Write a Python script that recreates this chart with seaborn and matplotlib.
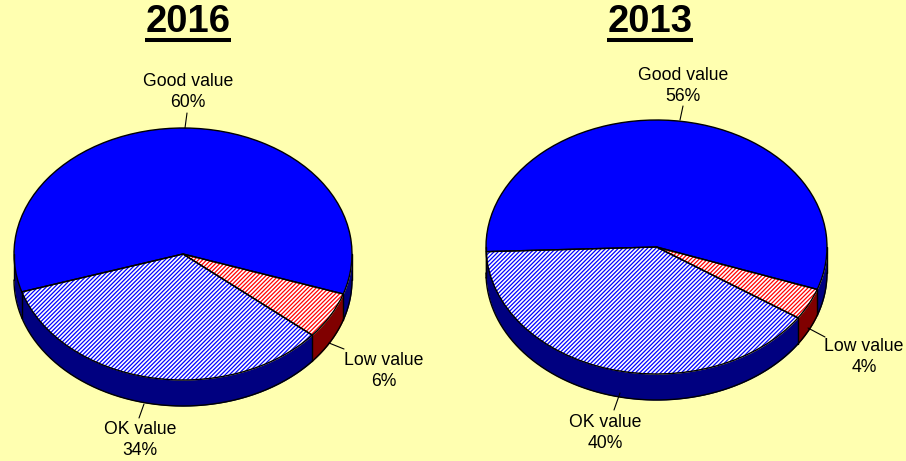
import numpy as np
import matplotlib
matplotlib.use('Agg')
import matplotlib.pyplot as plt
import seaborn as sns

W, H = 906, 461
BG = '#FFFFB0'

categories = ['Good value', 'OK value', 'Low value']
values_2016 = [60, 34, 6]
values_2013 = [56, 40, 4]

top_colors = ['#0000FF', '#FFFFFF', '#FFFFFF']
hatch_colors = ['#0000FF', '#0000FF', '#FF0000']
side_colors = ['#000080', '#000080', '#800000']

sns.set_theme(style='white', rc={'hatch.linewidth': 0.9})
plt.rcParams['font.family'] = ['Liberation Sans', 'DejaVu Sans']

fig = plt.figure(figsize=(W / 100, H / 100), dpi=100, facecolor=BG)


def px(x, y):
    return x / W, 1 - y / H


def draw_pie(values, title, title_x, title_span, cx, cy, a, b, depth, start, label_pos, leaders):
    ax = fig.add_axes([0, 0, 1, 1], facecolor='none')
    d = depth / b
    fr = np.array(values) / sum(values) * 360
    edges = start + np.concatenate([[0], np.cumsum(fr)])

    # side wall first, only the front half of the ellipse shows
    for i in range(len(values)):
        for shift in (0, 360, -360):
            l2, h2 = max(edges[i] + shift, 180), min(edges[i + 1] + shift, 360)
            if h2 <= l2:
                continue
            t = np.radians(np.linspace(l2, h2, 200))
            ax.fill_between(np.cos(t), np.sin(t), np.sin(t) - d, color=side_colors[i], lw=0)
            ax.plot(np.cos(t), np.sin(t) - d, color='black', lw=1)
    for e in edges[:3]:
        t = np.radians(e)
        if np.sin(t) < 0:
            ax.plot([np.cos(t)] * 2, [np.sin(t), np.sin(t) - d], color='black', lw=1)
    ax.plot([-1, -1], [0, -d], color='black', lw=1)
    ax.plot([1, 1], [0, -d], color='black', lw=1)

    # top face, hatch first and black outline over it
    wedges, _ = ax.pie(values, startangle=start, counterclock=True, colors=top_colors,
                       hatch=['', '/' * 8, '/' * 8], wedgeprops=dict(lw=0))
    for w, c in zip(wedges, hatch_colors):
        w.set_edgecolor(c)
    ax.pie(values, startangle=start, wedgeprops=dict(fill=False, edgecolor='black', lw=1))

    ax.set_aspect('auto')
    ax.set_xlim(-cx / a, (W - cx) / a)
    ax.set_ylim((cy - H) / b, cy / b)
    ax.axis('off')

    for name, v, (lx, ly) in zip(categories, values, label_pos):
        x, y = px(lx, ly)
        fig.text(x, y, f'{name}\n{v}%', ha='center', va='center', fontsize=12.7,
                 color='black', linespacing=1.25)
    for (x0, y0, x1, y1) in leaders:
        ax.plot([(x0 - cx) / a, (x1 - cx) / a], [(cy - y0) / b, (cy - y1) / b], color='black', lw=0.8)

    x, y = px(title_x, 22)
    fig.text(x, y, title, ha='center', va='center', fontsize=27.5, fontweight='bold', color='black')
    y = 1 - 40 / H
    fig.add_artist(plt.Line2D([title_span[0] / W, title_span[1] / W], [y, y], color='black', lw=2.9,
                              solid_capstyle='butt'))


draw_pie(values_2016, '2016', 188, (145, 231), 183, 254, 169, 126, 26, -18.5,
         [(188, 92), (140, 440), (384, 371)],
         [(185, 128, 187, 113), (144, 404, 139, 418), (329, 343, 344, 349)])
draw_pie(values_2013, '2013', 650, (607, 693), 656.5, 247, 170.5, 127, 26, -19.5,
         [(683, 86), (605, 433), (864, 357)],
         [(680, 120, 683, 106), (620, 393, 614, 410), (808, 328, 825, 337)])

fig.savefig('out.png', dpi=100, facecolor=BG)
